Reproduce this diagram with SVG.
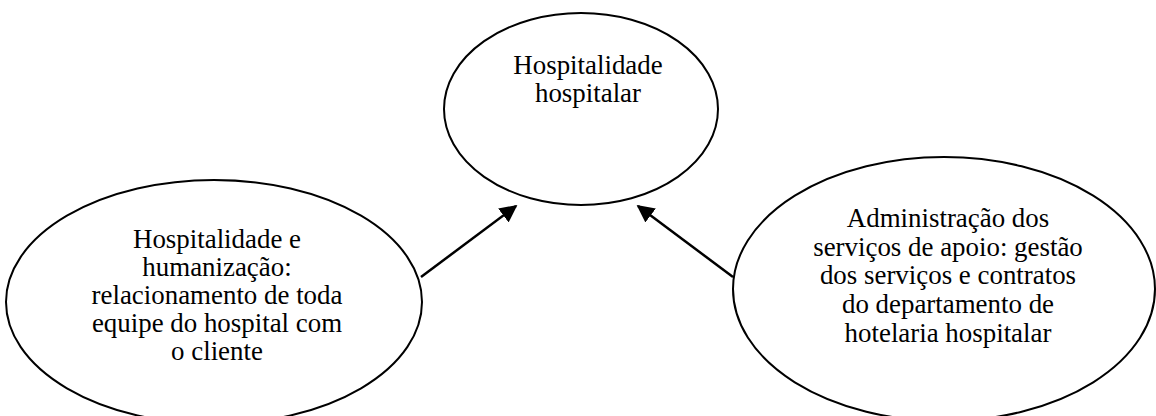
<svg xmlns="http://www.w3.org/2000/svg" width="1156" height="416" viewBox="0 0 1156 416">
  <style>
    .node ellipse { fill: #ffffff; stroke: #000000; stroke-width: 2; }
    .node text { font-family: "Liberation Serif", "Times New Roman", serif; font-size: 26.9px; fill: #000000; text-anchor: middle; }
    .edge { stroke: #000000; stroke-width: 2.5; fill: none; marker-end: url(#arrow); }
  </style>
  <defs>
    <marker id="arrow" viewBox="0 0 10 10" refX="9" refY="5" markerWidth="7" markerHeight="7" markerUnits="strokeWidth" orient="auto">
      <path d="M0,0 L10,5 L0,10 Z" fill="#000000"/>
    </marker>
  </defs>
  <rect width="1156" height="416" fill="#ffffff"/>

  <g id="hospitalidade-hospitalar" class="node">
    <ellipse cx="581" cy="109" rx="137" ry="96"/>
    <text x="588" y="74">Hospitalidade</text>
    <text x="588" y="102">hospitalar</text>
  </g>

  <g id="hospitalidade-humanizacao" class="node">
    <ellipse cx="214" cy="302" rx="208" ry="122"/>
    <text x="217" y="248">Hospitalidade e</text>
    <text x="217" y="276">humanização:</text>
    <text x="217" y="304">relacionamento de toda</text>
    <text x="217" y="332">equipe do hospital com</text>
    <text x="217" y="360">o cliente</text>
  </g>

  <g id="administracao-servicos" class="node">
    <ellipse cx="944" cy="289" rx="211" ry="132"/>
    <text x="948" y="227">Administração dos</text>
    <text x="948" y="256">serviços de apoio: gestão</text>
    <text x="948" y="284">dos serviços e contratos</text>
    <text x="948" y="313">do departamento de</text>
    <text x="948" y="342">hotelaria hospitalar</text>
  </g>

  <g id="connectors">
    <line class="edge" x1="421" y1="277" x2="516" y2="206"/>
    <line class="edge" x1="733" y1="277" x2="638" y2="206"/>
  </g>
</svg>
